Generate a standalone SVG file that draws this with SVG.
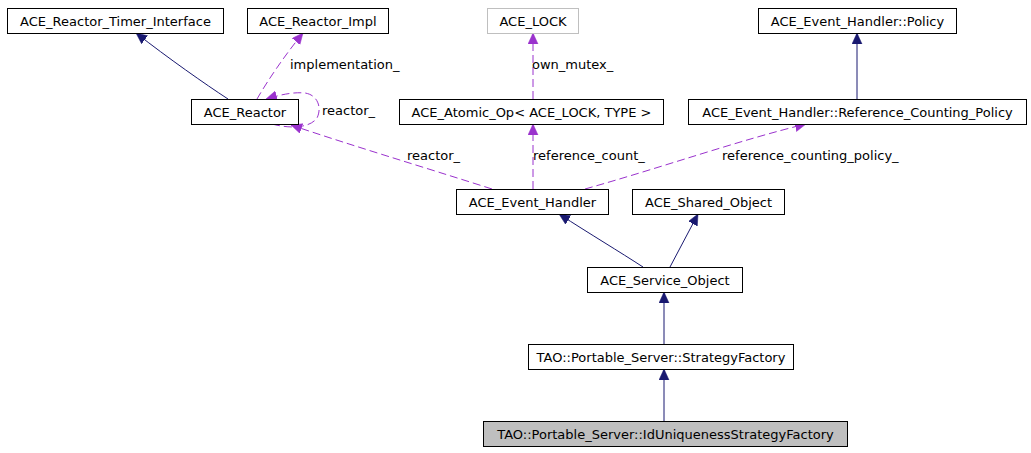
<svg xmlns="http://www.w3.org/2000/svg" width="1031" height="453" viewBox="0 0 1031 453">
<style>
.box{fill:#ffffff;stroke:#000000;stroke-width:1}
.grey{fill:#ffffff;stroke:#bfbfbf;stroke-width:1}
.cur{fill:#bfbfbf;stroke:#000000;stroke-width:1}
text{font-family:"DejaVu Sans","Liberation Sans",sans-serif;font-size:13px;fill:#000000}
.c{text-anchor:middle}
.inh{fill:none;stroke:#191970;stroke-width:1;marker-end:url(#an)}
.use{fill:none;stroke:#9a32cd;stroke-width:1;stroke-dasharray:8,4;marker-end:url(#ap)}
</style>
<defs>
<marker id="an" markerUnits="userSpaceOnUse" markerWidth="12" markerHeight="11" refX="11" refY="5" orient="auto"><path d="M0,0 L11,5 L0,10 z" fill="#191970" stroke="#191970" stroke-width="0.5"/></marker>
<marker id="ap" markerUnits="userSpaceOnUse" markerWidth="12" markerHeight="11" refX="11" refY="5" orient="auto"><path d="M0,0 L11,5 L0,10 z" fill="#9a32cd" stroke="#9a32cd" stroke-width="0.5"/></marker>
</defs>
<rect width="1031" height="453" fill="#ffffff"/>
<g id="edges">
<path class="inh" d="M228,99 C205,84 168,58 136,33"/>
<path class="use" d="M257,99 C268,80 285,55 303,33"/>
<path class="use" d="M272,124 C290,129 310,128 317,118 C322,108 318,95 305,93 C294,92 283,94 266,99"/>
<path class="use" d="M492,189 C420,166 350,145 291,125"/>
<path class="use" d="M533,189 L533,124"/>
<path class="use" d="M585,189 C660,168 740,140 806,124"/>
<path class="use" d="M533,99 L533,33"/>
<path class="inh" d="M857,99 L857,33"/>
<path class="inh" d="M643,267 C620,252 590,234 559,214"/>
<path class="inh" d="M670,267 L698,214"/>
<path class="inh" d="M664,344 L664,292"/>
<path class="inh" d="M664,421 L664,369"/>
<text x="290" y="69">implementation_</text>
<text x="322" y="115">reactor_</text>
<text x="407" y="160">reactor_</text>
<text x="533" y="160">reference_count_</text>
<text x="722" y="160">reference_counting_policy_</text>
<text x="532" y="69">own_mutex_</text>
</g>
<g id="n_timer"><rect class="box" x="7.5" y="8.5" width="216" height="25"/><text class="c" x="115.5" y="25.5">ACE_Reactor_Timer_Interface</text></g>
<g id="n_impl"><rect class="box" x="247.5" y="8.5" width="141" height="25"/><text class="c" x="318" y="25.5">ACE_Reactor_Impl</text></g>
<g id="n_lock"><rect class="grey" x="487.5" y="8.5" width="91" height="25"/><text class="c" x="533" y="25.5">ACE_LOCK</text></g>
<g id="n_policy"><rect class="box" x="758.5" y="8.5" width="198" height="25"/><text class="c" x="857.5" y="25.5">ACE_Event_Handler::Policy</text></g>
<g id="n_reactor"><rect class="box" x="191.5" y="99.5" width="107" height="25"/><text class="c" x="245" y="116.5">ACE_Reactor</text></g>
<g id="n_atomic"><rect class="box" x="399.5" y="99.5" width="264" height="25"/><text class="c" x="531.5" y="116.5">ACE_Atomic_Op&lt; ACE_LOCK, TYPE &gt;</text></g>
<g id="n_rcp"><rect class="box" x="688.5" y="99.5" width="338" height="25"/><text class="c" x="857.5" y="116.5">ACE_Event_Handler::Reference_Counting_Policy</text></g>
<g id="n_eh"><rect class="box" x="456.5" y="189.5" width="152" height="25"/><text class="c" x="532.5" y="206.5">ACE_Event_Handler</text></g>
<g id="n_shared"><rect class="box" x="632.5" y="189.5" width="152" height="25"/><text class="c" x="708.5" y="206.5">ACE_Shared_Object</text></g>
<g id="n_service"><rect class="box" x="587.5" y="267.5" width="155" height="25"/><text class="c" x="665" y="284.5">ACE_Service_Object</text></g>
<g id="n_sf"><rect class="box" x="528.5" y="344.5" width="265" height="25"/><text class="c" x="661" y="361.5">TAO::Portable_Server::StrategyFactory</text></g>
<g id="n_idu"><rect class="cur" x="483.5" y="421.5" width="364" height="25"/><text class="c" x="665.5" y="438.5">TAO::Portable_Server::IdUniquenessStrategyFactory</text></g>
</svg>
